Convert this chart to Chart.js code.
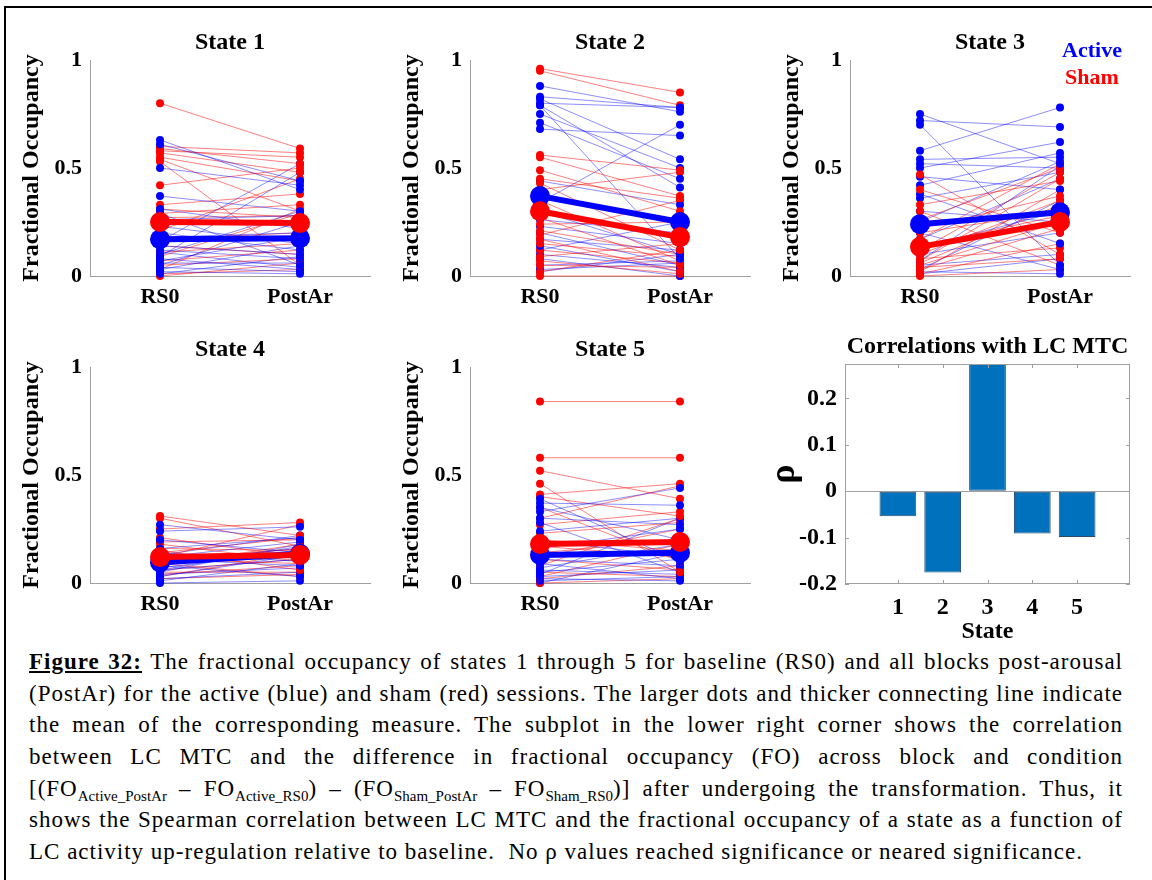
<!DOCTYPE html>
<html>
<head>
<meta charset="utf-8">
<script src="https://cdn.jsdelivr.net/npm/chart.js@4.4.1/dist/chart.umd.min.js"></script>
<style>
  body { margin: 0; background: #fff; }
  #page { position: relative; width: 1152px; height: 880px; overflow: hidden; background: #fff;
          font-family: 'Liberation Serif', 'Times New Roman', 'DejaVu Serif', serif; }
  #frame { position: absolute; left: 4px; top: 6px; width: 1200px; height: 950px;
           border-top: 2px solid #000; border-left: 2px solid #000; }
  canvas { position: absolute; }
  .key { position: absolute; width: 80px; text-align: center; font-weight: bold; font-size: 22px; line-height: 22px; }
  .ln { position: absolute; left: 29px; width: 1094px; height: 28px; line-height: 28px; font-size: 23px; color: #000; letter-spacing: 1px; }
  .ln > span { display: inline-block; white-space: nowrap; }
  .sb { font-size: 15px; position: relative; top: 5px; letter-spacing: 0; }
</style>
</head>
<body>
<div id="page">
  <div id="frame"></div>
  <canvas id="c1" width="370" height="301" style="left:10px;top:10px"></canvas>
  <canvas id="c2" width="370" height="301" style="left:390px;top:10px"></canvas>
  <canvas id="c3" width="370" height="301" style="left:770px;top:10px"></canvas>
  <canvas id="c4" width="370" height="301" style="left:10px;top:317px"></canvas>
  <canvas id="c5" width="370" height="301" style="left:390px;top:317px"></canvas>
  <canvas id="c6" width="388" height="324" style="left:760px;top:322px"></canvas>
  <div class="key" style="left:1052px;top:39px;color:#0000ff">Active</div>
  <div class="key" style="left:1052px;top:66px;color:#ff0000">Sham</div>

  <div class="ln just" style="top:648px"><span><b><u>Figure 32:</u></b> The fractional occupancy of states 1 through 5 for baseline (RS0) and all blocks post-arousal</span></div>
  <div class="ln just" style="top:680px"><span>(PostAr) for the active (blue) and sham (red) sessions. The larger dots and thicker connecting line indicate</span></div>
  <div class="ln just" style="top:711px"><span>the mean of the corresponding measure. The subplot in the lower right corner shows the correlation</span></div>
  <div class="ln just" style="top:743px"><span>between LC MTC and the difference in fractional occupancy (FO) across block and condition</span></div>
  <div class="ln just" style="top:775px"><span>[(FO<span class="sb">Active_PostAr</span> – FO<span class="sb">Active_RS0</span>) – (FO<span class="sb">Sham_PostAr</span> – FO<span class="sb">Sham_RS0</span>)] after undergoing the transformation. Thus, it</span></div>
  <div class="ln just" style="top:806px"><span>shows the Spearman correlation between LC MTC and the fractional occupancy of a state as a function of</span></div>
  <div class="ln" style="top:838px"><span>LC activity up-regulation relative to baseline.&nbsp; No ρ values reached significance or neared significance.</span></div>
</div>

<script>
// blocks on the x axis
const blockLabels = ['RS0', 'PostAr'];
const blockPos = [1, 2];
const foTicks = [0, 0.5, 1];
const stateTitles = ['State 1', 'State 2', 'State 3', 'State 4', 'State 5'];

// state 1
const s1ActiveRS0  = [0.63, 0.61, 0.50, 0.37, 0.31, 0.29, 0.26, 0.23, 0.20, 0.18, 0.16, 0.14, 0.12, 0.10, 0.09, 0.08, 0.07, 0.06, 0.05, 0.04, 0.03, 0.02, 0.01, 0.11];
const s1ActivePost = [0.40, 0.44, 0.42, 0.30, 0.22, 0.05, 0.28, 0.15, 0.12, 0.20, 0.52, 0.10, 0.08, 0.30, 0.48, 0.03, 0.18, 0.06, 0.25, 0.02, 0.14, 0.01, 0.09, 0.04];
const s1ShamRS0    = [0.80, 0.60, 0.59, 0.58, 0.57, 0.55, 0.54, 0.53, 0.42, 0.33, 0.31, 0.29, 0.27, 0.24, 0.21, 0.17, 0.14, 0.11, 0.09, 0.07, 0.05, 0.03, 0.01, 0.00];
const s1ShamPost   = [0.59, 0.57, 0.52, 0.55, 0.48, 0.44, 0.30, 0.05, 0.50, 0.38, 0.27, 0.33, 0.28, 0.25, 0.45, 0.20, 0.10, 0.15, 0.29, 0.12, 0.08, 0.31, 0.03, 0.06];
const s1ActiveMean = [0.17, 0.175];
const s1ShamMean   = [0.25, 0.245];

// state 2
const s2ActiveRS0  = [0.88, 0.83, 0.82, 0.80, 0.79, 0.79, 0.75, 0.71, 0.68, 0.44, 0.34, 0.30, 0.26, 0.23, 0.20, 0.17, 0.14, 0.12, 0.10, 0.08, 0.05, 0.03, 0.02];
const s2ActivePost = [0.76, 0.78, 0.54, 0.78, 0.41, 0.08, 0.50, 0.45, 0.65, 0.33, 0.70, 0.10, 0.20, 0.15, 0.05, 0.12, 0.02, 0.25, 0.04, 0.00, 0.07, 0.06, 0.10];
const s2ShamRS0    = [0.96, 0.95, 0.56, 0.55, 0.49, 0.45, 0.43, 0.40, 0.35, 0.31, 0.27, 0.24, 0.21, 0.19, 0.17, 0.15, 0.12, 0.09, 0.07, 0.05, 0.02, 0.00];
const s2ShamPost   = [0.85, 0.79, 0.49, 0.37, 0.30, 0.36, 0.12, 0.48, 0.07, 0.18, 0.05, 0.25, 0.10, 0.35, 0.02, 0.09, 0.06, 0.15, 0.01, 0.04, 0.12, 0.00];
const s2ActiveMean = [0.37, 0.25];
const s2ShamMean   = [0.30, 0.18];

// state 3
const s3ActiveRS0  = [0.75, 0.72, 0.70, 0.58, 0.54, 0.52, 0.50, 0.46, 0.42, 0.38, 0.36, 0.30, 0.25, 0.20, 0.17, 0.13, 0.10, 0.07, 0.05, 0.03, 0.02, 0.01];
const s3ActivePost = [0.52, 0.69, 0.05, 0.78, 0.55, 0.50, 0.62, 0.40, 0.57, 0.15, 0.48, 0.25, 0.53, 0.03, 0.45, 0.30, 0.20, 0.51, 0.10, 0.35, 0.01, 0.08];
const s3ShamRS0    = [0.47, 0.40, 0.33, 0.30, 0.26, 0.22, 0.20, 0.17, 0.14, 0.12, 0.10, 0.08, 0.07, 0.05, 0.04, 0.03, 0.02, 0.01, 0.00, 0.06];
const s3ShamPost   = [0.10, 0.20, 0.44, 0.05, 0.50, 0.37, 0.30, 0.52, 0.28, 0.48, 0.35, 0.13, 0.45, 0.25, 0.08, 0.22, 0.40, 0.15, 0.03, 0.33];
const s3ActiveMean = [0.24, 0.295];
const s3ShamMean   = [0.135, 0.25];

// state 4
const s4ActiveRS0  = [0.27, 0.24, 0.20, 0.16, 0.14, 0.12, 0.11, 0.10, 0.09, 0.08, 0.07, 0.06, 0.05, 0.04, 0.03, 0.02, 0.01, 0.00, 0.13, 0.06];
const s4ActivePost = [0.20, 0.26, 0.14, 0.21, 0.10, 0.19, 0.08, 0.16, 0.12, 0.03, 0.15, 0.11, 0.18, 0.07, 0.13, 0.05, 0.09, 0.01, 0.22, 0.17];
const s4ShamRS0    = [0.31, 0.30, 0.25, 0.21, 0.19, 0.18, 0.16, 0.15, 0.13, 0.12, 0.11, 0.10, 0.09, 0.08, 0.06, 0.05, 0.04, 0.03, 0.02, 0.14];
const s4ShamPost   = [0.22, 0.17, 0.28, 0.12, 0.20, 0.10, 0.15, 0.06, 0.13, 0.27, 0.09, 0.16, 0.03, 0.18, 0.11, 0.05, 0.08, 0.14, 0.04, 0.21];
const s4ActiveMean = [0.095, 0.135];
const s4ShamMean   = [0.12, 0.13];

// state 5
const s5ActiveRS0  = [0.39, 0.37, 0.35, 0.33, 0.30, 0.28, 0.24, 0.20, 0.16, 0.13, 0.11, 0.09, 0.07, 0.06, 0.05, 0.04, 0.03, 0.02, 0.01, 0.00];
const s5ActivePost = [0.10, 0.36, 0.20, 0.44, 0.27, 0.05, 0.30, 0.12, 0.25, 0.15, 0.08, 0.02, 0.18, 0.04, 0.11, 0.30, 0.06, 0.01, 0.03, 0.14];
const s5ShamRS0    = [0.84, 0.58, 0.52, 0.46, 0.41, 0.40, 0.35, 0.30, 0.27, 0.23, 0.20, 0.17, 0.14, 0.11, 0.08, 0.05, 0.03, 0.02, 0.00, 0.12];
const s5ShamPost   = [0.84, 0.58, 0.39, 0.05, 0.46, 0.31, 0.10, 0.45, 0.33, 0.28, 0.15, 0.12, 0.20, 0.06, 0.30, 0.03, 0.18, 0.08, 0.02, 0.25];
const s5ActiveMean = [0.13, 0.14];
const s5ShamMean   = [0.18, 0.19];

// correlation subplot
const barStates = [1, 2, 3, 4, 5];
const barLabels = ['1', '2', '3', '4', '5'];
const rho = [-0.054, -0.175, 0.274, -0.091, -0.099];
const rhoTicks = [-0.2, -0.1, 0, 0.1, 0.2];
const rhoTickLabels = ['-0.2', '-0.1', '0', '0.1', '0.2'];

const SERIF = "'Liberation Serif', 'Times New Roman', 'DejaVu Serif', serif";
const AXIS = '#a0a0a0';
const BLUE = '#0000ff', RED = '#ff0000';
const BLUE_LINE = 'rgba(0,0,255,0.45)', RED_LINE = 'rgba(255,0,0,0.5)';

Chart.defaults.font.family = SERIF;
Chart.defaults.color = '#000';

function subjectSet(r, p, line, dot) {
  return {
    data: blockPos.map((x, k) => ({ x: x, y: k ? p : r })),
    borderColor: line, borderWidth: 1,
    pointRadius: 4, pointBackgroundColor: dot, pointBorderWidth: 0,
    clip: false, order: 2
  };
}

function meanSet(m, color, order) {
  return {
    data: blockPos.map((x, k) => ({ x: x, y: m[k] })),
    borderColor: color, borderWidth: 6,
    pointRadius: 10, pointBackgroundColor: color, pointBorderWidth: 0,
    clip: false, order: order
  };
}

function stateChart(id, title, aR, aP, sR, sP, aM, sM) {
  const datasets = [meanSet(sM, RED, 0), meanSet(aM, BLUE, 1)];
  const n = Math.max(aR.length, sR.length);
  for (let i = 0; i < n; i++) {
    if (i < aR.length) datasets.push(subjectSet(aR[i], aP[i], BLUE_LINE, BLUE));
    if (i < sR.length) datasets.push(subjectSet(sR[i], sP[i], RED_LINE, RED));
  }
  new Chart(document.getElementById(id), {
    type: 'line',
    data: { datasets: datasets },
    options: {
      responsive: false,
      animation: false,
      events: [],
      layout: { padding: { left: 0, right: 8, top: 0, bottom: 0 } },
      plugins: {
        legend: { display: false },
        tooltip: { enabled: false },
        title: {
          display: true, text: title, fullSize: false, color: '#000',
          font: { family: SERIF, size: 24, weight: 'bold', lineHeight: 1 },
          padding: { top: 21, bottom: 5 }
        }
      },
      scales: {
        x: {
          type: 'linear', min: 0.5, max: 2.5,
          grid: { display: false, drawTicks: false },
          border: { display: true, color: AXIS, width: 1 },
          afterBuildTicks: s => { s.ticks = blockPos.map(v => ({ value: v })); },
          afterFit: s => { s.height = 35; },
          ticks: {
            color: '#000', padding: 8, maxRotation: 0, autoSkip: false,
            font: { family: SERIF, size: 22, weight: 'bold', lineHeight: 1.2 },
            callback: v => blockLabels[blockPos.indexOf(v)]
          }
        },
        y: {
          type: 'linear', min: 0, max: 1,
          grid: { display: false, drawTicks: false },
          border: { display: true, color: AXIS, width: 1 },
          afterBuildTicks: s => { s.ticks = foTicks.map(v => ({ value: v })); },
          afterFit: s => { s.width = 80; },
          ticks: {
            color: '#000', padding: 8,
            font: { family: SERIF, size: 22, weight: 'bold', lineHeight: 1.2 },
            callback: v => String(v)
          },
          title: {
            display: true, text: 'Fractional Occupancy', color: '#000',
            font: { family: SERIF, size: 24, weight: 'bold', lineHeight: 1 },
            padding: { top: 10, bottom: 0 }
          }
        }
      }
    }
  });
}

stateChart('c1', stateTitles[0], s1ActiveRS0, s1ActivePost, s1ShamRS0, s1ShamPost, s1ActiveMean, s1ShamMean);
stateChart('c2', stateTitles[1], s2ActiveRS0, s2ActivePost, s2ShamRS0, s2ShamPost, s2ActiveMean, s2ShamMean);
stateChart('c3', stateTitles[2], s3ActiveRS0, s3ActivePost, s3ShamRS0, s3ShamPost, s3ActiveMean, s3ShamMean);
stateChart('c4', stateTitles[3], s4ActiveRS0, s4ActivePost, s4ShamRS0, s4ShamPost, s4ActiveMean, s4ShamMean);
stateChart('c5', stateTitles[4], s5ActiveRS0, s5ActivePost, s5ShamRS0, s5ShamPost, s5ActiveMean, s5ShamMean);

// box around the correlation axes, with inward tick marks
const boxPlugin = {
  id: 'box',
  afterDraw(chart) {
    const { ctx, chartArea: a, scales } = chart;
    ctx.save();
    ctx.strokeStyle = AXIS;
    ctx.lineWidth = 1;
    ctx.strokeRect(a.left + 0.5, a.top + 0.5, a.right - a.left - 1, a.bottom - a.top - 1);
    ctx.beginPath();
    scales.x.ticks.forEach(t => {
      const px = Math.round(scales.x.getPixelForValue(t.value)) + 0.5;
      ctx.moveTo(px, a.bottom); ctx.lineTo(px, a.bottom - 4);
      ctx.moveTo(px, a.top); ctx.lineTo(px, a.top + 4);
    });
    scales.y.ticks.forEach(t => {
      const py = Math.round(scales.y.getPixelForValue(t.value)) + 0.5;
      ctx.moveTo(a.left, py); ctx.lineTo(a.left + 4, py);
      ctx.moveTo(a.right, py); ctx.lineTo(a.right - 4, py);
    });
    ctx.stroke();
    ctx.restore();
  }
};

new Chart(document.getElementById('c6'), {
  type: 'bar',
  data: {
    datasets: [{
      data: barStates.map((s, i) => ({ x: s, y: rho[i] })),
      backgroundColor: '#0072BD',
      borderColor: '#2a4c6e',
      borderWidth: 1,
      borderSkipped: false,
      barPercentage: 0.82,
      categoryPercentage: 1
    }]
  },
  plugins: [boxPlugin],
  options: {
    responsive: false,
    animation: false,
    events: [],
    layout: { padding: { left: 0, right: 18, top: 0, bottom: 0 } },
    plugins: {
      legend: { display: false },
      tooltip: { enabled: false },
      title: {
        display: true, text: 'Correlations with LC MTC', fullSize: false, color: '#000',
        font: { family: SERIF, size: 24, weight: 'bold', lineHeight: 1 },
        padding: { top: 13, bottom: 5 }
      }
    },
    scales: {
      x: {
        type: 'linear', min: -0.18, max: 6.18, offset: false,
        grid: { display: false, drawTicks: false },
        border: { display: false },
        afterBuildTicks: s => { s.ticks = barStates.map(v => ({ value: v })); },
        afterFit: s => { s.height = 62; },
        ticks: {
          color: '#000', padding: 9, maxRotation: 0, autoSkip: false,
          font: { family: SERIF, size: 24, weight: 'bold', lineHeight: 1.2 },
          callback: v => barLabels[barStates.indexOf(v)]
        },
        title: {
          display: true, text: 'State', color: '#000',
          font: { family: SERIF, size: 24, weight: 'bold', lineHeight: 1 },
          padding: { top: 0, bottom: 2 }
        }
      },
      y: {
        type: 'linear', min: -0.2, max: 0.274,
        grid: {
          display: true, drawTicks: false, lineWidth: 1,
          color: c => (c.tick && c.tick.value === 0 ? AXIS : 'rgba(0,0,0,0)')
        },
        border: { display: false },
        afterBuildTicks: s => { s.ticks = rhoTicks.map(v => ({ value: v })); },
        afterFit: s => { s.width = 85; },
        ticks: {
          color: '#000', padding: 8, includeBounds: false,
          font: { family: SERIF, size: 24, weight: 'bold', lineHeight: 1.2 },
          callback: v => rhoTickLabels[rhoTicks.indexOf(v)]
        },
        title: {
          display: true, text: 'ρ', color: '#000',
          font: { family: SERIF, size: 36, weight: 'bold', lineHeight: 1 },
          padding: { top: 7, bottom: 0 }
        }
      }
    }
  }
});

// justify caption lines to the column width
const CAP_W = 1094;
document.querySelectorAll('.ln.just > span').forEach(sp => {
  const w = sp.getBoundingClientRect().width;
  const gaps = (sp.textContent.match(/ /g) || []).length;
  if (gaps) sp.style.wordSpacing = ((CAP_W - w) / gaps) + 'px';
});
</script>
</body>
</html>
